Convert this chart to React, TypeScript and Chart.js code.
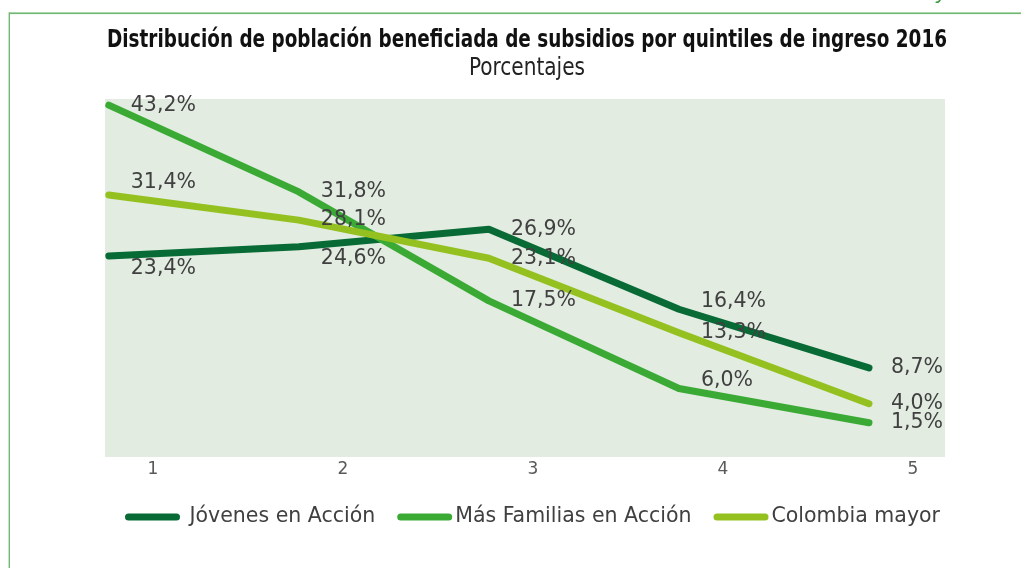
import { useEffect, useRef } from "react";
import { Chart, registerables } from "chart.js";

Chart.register(...registerables);

// ---- data ----
const quintiles = [1, 2, 3, 4, 5];
const tickLabels = ["1", "2", "3", "4", "5"];
const seriesNames = [" Jóvenes en Acción", "Más Familias en Acción", "Colombia mayor"];
const jovenesEnAccion = [23.4, 24.6, 26.9, 16.4, 8.7];
const masFamiliasEnAccion = [43.2, 31.8, 17.5, 6.0, 1.5];
const colombiaMayor = [31.4, 28.1, 23.1, 13.3, 4.0];
const titleText = "Distribución de población beneficiada de subsidios por quintiles de ingreso 2016";
const subtitleText = "Porcentajes";

// ---- styles ----
const seriesColors = ["#086a35", "#3aaa35", "#94c11f"];
const labelShift = [
  [13, 12, 0, -8, 0],
  [1, 0, 0, -8, 0],
  [-12, 0, 0, 0, 0],
];
const SANS = '"DejaVu Sans", Verdana, sans-serif';
const NARROW = '"Liberation Sans Narrow", "Arial Narrow", "DejaVu Sans Condensed", sans-serif';

const fmt = (v: number) => v.toFixed(1).replace(".", ",") + "%";

function fitText(ctx: any, text: string, cx: number, cy: number, maxW: number) {
  const w = ctx.measureText(text).width;
  ctx.save();
  ctx.translate(cx, cy);
  if (w > maxW) ctx.scale(maxW / w, 1);
  ctx.fillText(text, 0, 0);
  ctx.restore();
}

const decorPlugin = {
  id: "decor",
  beforeDraw(chart: any) {
    const { ctx, chartArea: a, width, height } = chart;
    ctx.save();
    ctx.fillStyle = "#ffffff";
    ctx.fillRect(0, 0, width, height);
    ctx.fillStyle = "#e2ece1";
    ctx.fillRect(a.left, a.top, a.right - a.left, a.bottom - a.top);
    // frame
    ctx.fillStyle = "#72b872";
    ctx.fillRect(9, 12.4, width - 9, 1.7);
    ctx.fillRect(8.6, 12.4, 1.4, height);
    // fragment of text above the frame
    ctx.fillStyle = "#3f9a3f";
    ctx.font = `italic 20px ${SANS}`;
    ctx.textAlign = "left";
    ctx.textBaseline = "alphabetic";
    ctx.fillText("y", 936, -1);
    ctx.restore();
  },
  afterDatasetsDraw(chart: any) {
    const { ctx } = chart;
    ctx.save();
    ctx.font = `20.5px ${SANS}`;
    ctx.fillStyle = "#404040";
    ctx.textAlign = "left";
    ctx.textBaseline = "middle";
    chart.data.datasets.forEach((ds: any, di: number) => {
      const meta = chart.getDatasetMeta(di);
      meta.data.forEach((pt: any, i: number) => {
        const v = ds.data[i].y;
        ctx.fillText(fmt(v), pt.x + 22, pt.y + labelShift[di][i]);
      });
    });
    ctx.restore();
  },
  afterDraw(chart: any) {
    const { ctx, chartArea: a } = chart;
    const cx = (a.left + a.right) / 2 + 2;
    ctx.save();
    ctx.textAlign = "center";
    ctx.textBaseline = "middle";
    ctx.fillStyle = "#111111";
    ctx.font = `bold 25px ${NARROW}`;
    fitText(ctx, titleText, cx, 40, 840);
    ctx.fillStyle = "#222222";
    ctx.font = `25px ${NARROW}`;
    fitText(ctx, subtitleText, cx, 68, 116);

    // legend
    ctx.font = `20.5px ${SANS}`;
    const markW = 55;
    const gap = 3;
    const itemGap = 22;
    const widths = seriesNames.map((n) => ctx.measureText(n).width);
    const total = widths.reduce((s, w) => s + markW + gap + w, 0) + itemGap * (seriesNames.length - 1);
    let x = 532.5 - total / 2;
    const y = 517;
    seriesNames.forEach((name, i) => {
      ctx.strokeStyle = seriesColors[i];
      ctx.lineWidth = 7;
      ctx.lineCap = "round";
      ctx.beginPath();
      ctx.moveTo(x + 3.5, y);
      ctx.lineTo(x + markW - 3.5, y);
      ctx.stroke();
      ctx.fillStyle = "#404040";
      ctx.textAlign = "left";
      ctx.fillText(name, x + markW + gap, y);
      x += markW + gap + widths[i] + itemGap;
    });
    ctx.restore();
  },
};

export default function App() {
  const ref = useRef<HTMLCanvasElement | null>(null);
  useEffect(() => {
    if (!ref.current) return;
    const series = [jovenesEnAccion, masFamiliasEnAccion, colombiaMayor];
    const chart = new Chart(ref.current, {
      type: "line",
      data: {
        datasets: series.map((vals, i) => ({
          label: seriesNames[i].trim(),
          data: vals.map((v, j) => ({ x: quintiles[j], y: v })),
          borderColor: seriesColors[i],
          backgroundColor: seriesColors[i],
          borderWidth: 7,
          borderCapStyle: "round",
          borderJoinStyle: "round",
          pointRadius: 0,
          pointHoverRadius: 0,
          tension: 0,
          fill: false,
          clip: false,
          order: 3 - i,
        })),
      },
      options: {
        responsive: false,
        animation: false,
        devicePixelRatio: 1,
        layout: { padding: { left: 105, right: 76, top: 99, bottom: 0 } },
        plugins: {
          legend: { display: false },
          title: { display: false },
          tooltip: { enabled: false },
        },
        scales: {
          x: {
            type: "linear",
            min: 0.98,
            max: 5.4,
            grid: { display: false, drawTicks: false },
            border: { display: false },
            afterBuildTicks: (s: any) => {
              s.ticks = quintiles.map((v) => ({ value: v }));
            },
            afterFit: (s: any) => {
              s.height = 111;
            },
            ticks: {
              autoSkip: false,
              maxRotation: 0,
              labelOffset: 44,
              padding: 2,
              color: "#595959",
              font: { family: SANS, size: 17 },
              callback: (v: any) => {
                const k = quintiles.indexOf(Number(v));
                return k >= 0 ? tickLabels[k] : "";
              },
            },
          },
          y: {
            display: false,
            min: -3,
            max: 44,
          },
        },
      },
      plugins: [decorPlugin],
    });
    return () => chart.destroy();
  }, []);
  return (
    <div style={{ position: "absolute", left: 0, top: 0, width: 1021, height: 568 }}>
      <canvas ref={ref} width={1021} height={568} style={{ display: "block" }} />
    </div>
  );
}
